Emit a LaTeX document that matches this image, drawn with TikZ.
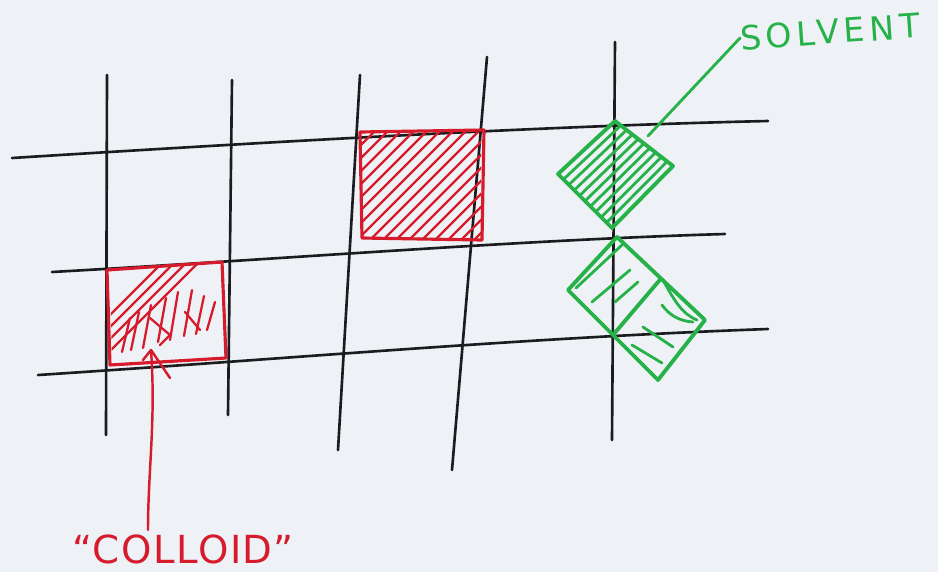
\documentclass[tikz,border=0pt]{standalone}
\usepackage{fontspec}
\usetikzlibrary{calc}
\newfontfamily\hand[LetterSpace=14]{DejaVu Sans}
\newfontfamily\handb[LetterSpace=4]{DejaVu Sans}
\definecolor{bg}{RGB}{238,242,246}
\definecolor{pen}{RGB}{28,28,30}
\definecolor{redink}{RGB}{214,28,44}
\definecolor{greenink}{RGB}{38,178,72}
\begin{document}
\begin{tikzpicture}[x=0.02cm,y=-0.02cm,
  gridline/.style={pen, line width=1.5pt, line cap=round},
  redbox/.style={redink, line width=1.8pt, line join=round},
  redhatch/.style={redink, line width=1.3pt, line cap=round},
  greenbox/.style={greenink, line width=2.2pt, line join=round},
  greenhatch/.style={greenink, line width=1.6pt, line cap=round},
  lbl/.style={inner sep=0pt}]
\fill[bg] (0,0) rectangle (938,572);
\useasboundingbox (0,0) rectangle (938,572);

% grid
\draw[gridline] (12,158) .. controls (300,140) and (550,126) .. (768,121);
\draw[gridline] (52,272) .. controls (300,258) and (520,240) .. (725,234);
\draw[gridline] (38,375) .. controls (300,358) and (520,338) .. (768,329);
\draw[gridline] (107,75) -- (106,435);
\draw[gridline] (232,80) -- (228,415);
\draw[gridline] (360,75) -- (338,450);
\draw[gridline] (487,57) -- (452,470);
\draw[gridline] (615,42) -- (612,440);

% red square (top)
\begin{scope}
  \clip (362,132) rectangle (481,238);
  \foreach \i in {-112,-99,...,120}
    \draw[redhatch] (360+\i,245) -- (490+\i,115);
\end{scope}
\draw[redbox] (360,132) -- (484,130) -- (482,240) -- (362,238) -- cycle;

% red square (bottom left)
\begin{scope}
  \clip (110,270) -- (222,262) -- (225,357) -- (112,363) -- cycle;
  \foreach \i in {-45,-33,...,-5}
    \draw[redhatch] (110+\i,360) -- (230+\i,240);
  \foreach \x/\a/\b in {122/318/352,131/312/350,143/305/348,158/298/342,170/292/340,184/290/336,196/296/334,207/302/330}
    \draw[redhatch] (\x+8,\a) -- (\x,\b);
  \draw[redhatch] (150,318) -- (170,335) -- (160,345);
  \draw[redhatch] (185,312) -- (200,330);
\end{scope}
\draw[redbox] (107,270) -- (222,262) -- (226,358) -- (110,365) -- cycle;

% green diamond (top)
\coordinate (T) at (615,121);
\coordinate (R) at (673,166);
\coordinate (B) at (612,228);
\coordinate (L) at (558,174);
\foreach \t in {0.1,0.2,...,0.9}
  \draw[greenhatch] ($(L)!\t!(B)$) -- ($(T)!\t!(R)$);
\draw[greenbox] (T) -- (R) -- (B) -- (L) -- cycle;

% green rectangle (bottom)
\coordinate (T2) at (617,237);
\coordinate (R2) at (705,320);
\coordinate (B2) at (658,380);
\coordinate (L2) at (568,290);
\coordinate (M1) at ($(T2)!0.5!(R2)$);
\coordinate (M2) at ($(L2)!0.5!(B2)$);
\draw[greenbox] (T2) -- (R2) -- (B2) -- (L2) -- cycle;
\draw[greenbox] (M1) -- (M2);
\draw[greenhatch] (576,288) -- (622,245);
\draw[greenhatch] (592,302) -- (630,270);
\draw[greenhatch] (615,302) -- (638,282);
\draw[greenhatch] (643,327) -- (673,347);
\draw[greenhatch] (632,345) -- (662,363);
\draw[greenhatch] (663,280) .. controls (674,300) and (682,314) .. (697,320);
\draw[greenhatch] (662,305) .. controls (670,316) and (680,321) .. (693,322);

% labels
\node[lbl, greenink, anchor=west, rotate=4, font=\hand\fontsize{19}{21}\selectfont] (solvent) at (740,38) {SOLVENT};
\coordinate (stip) at (648,136);
\draw[greenink, line width=1.6pt, line cap=round] (stip) -- (solvent.west);

\node[lbl, redink, font=\handb\fontsize{22}{24}\selectfont] (colloid) at (183,549) {“COLLOID”};
\coordinate (ctip) at (151,350);
\coordinate (cbot) at (148,530);
\draw[redink, line width=1.4pt, line cap=round] (ctip) .. controls (156,420) and (148,470) .. (cbot);
\draw[redink, line width=1.4pt, line cap=round, line join=round] (143,360) -- (151,350) -- (170,378);
\end{tikzpicture}
\end{document}
